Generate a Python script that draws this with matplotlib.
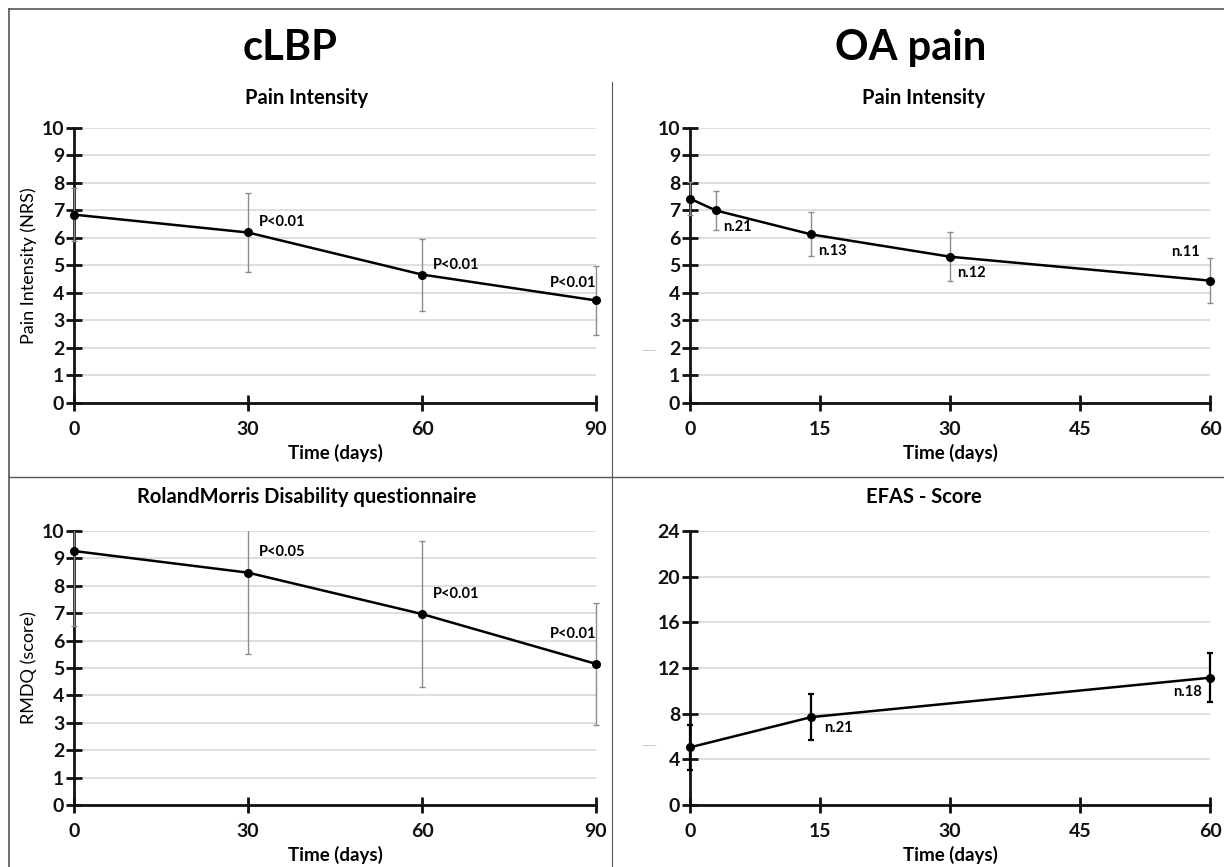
import matplotlib.pyplot as plt
from matplotlib.lines import Line2D
from matplotlib.patches import Rectangle

plt.rcParams['font.family'] = ['Lato', 'DejaVu Sans']
plt.rcParams['font.weight'] = 'bold'

# cLBP - pain intensity
lbp_days = [0, 30, 60, 90]
lbp_pain = [6.85, 6.2, 4.67, 3.73]
lbp_pain_err = [0.95, 1.42, 1.31, 1.24]
lbp_pain_p = ['', 'P<0.01', 'P<0.01', 'P<0.01']

# cLBP - RMDQ
lbp_rmdq = [9.27, 8.48, 6.97, 5.15]
lbp_rmdq_err = [2.75, 2.97, 2.67, 2.22]
lbp_rmdq_p = ['', 'P<0.05', 'P<0.01', 'P<0.01']

# OA pain - pain intensity
oa_days = [0, 3, 14, 30, 60]
oa_pain = [7.43, 7.0, 6.13, 5.32, 4.45]
oa_pain_err = [0.6, 0.7, 0.8, 0.9, 0.82]
oa_pain_n = ['', 'n.21', 'n.13', 'n.12', 'n.11']

# OA pain - EFAS score
efas_days = [0, 14, 60]
efas_score = [5.05, 7.7, 11.15]
efas_err = [1.95, 2.0, 2.15]
efas_n = ['', 'n.21', 'n.18']

W, H = 1224, 867
fig = plt.figure(figsize=(W / 100, H / 100), dpi=100)


def px_axes(x0, y0, x1, y1):
    return fig.add_axes([x0 / W, 1 - y1 / H, (x1 - x0) / W, (y1 - y0) / H])


def style(ax, xmax, xticks, ymax, yticks, ylabel=None):
    ax.set_xlim(0, xmax)
    ax.set_ylim(0, ymax)
    ax.set_xticks(xticks)
    ax.set_yticks(yticks)
    for s in ['top', 'right']:
        ax.spines[s].set_visible(False)
    for s in ['left', 'bottom']:
        ax.spines[s].set_linewidth(2)
        ax.spines[s].set_color('#111111')
    ax.yaxis.grid(True, color='#d9d9d9', lw=1.2)
    ax.set_axisbelow(True)
    ax.tick_params(axis='both', direction='inout', length=12, width=2,
                   labelsize=14, colors='#111111')
    ax.tick_params(axis='x', pad=7)
    ax.tick_params(axis='y', pad=1)
    ax.set_xlabel('Time (days)', fontsize=13.5, fontweight='bold', labelpad=4)
    if ylabel:
        ax.set_ylabel(ylabel, fontsize=13, fontweight='normal', labelpad=3)


def series(ax, x, y, err, ecolor, elw):
    eb = ax.errorbar(x, y, yerr=err, color='black', lw=1.8, marker='none',
                     ecolor=ecolor, elinewidth=elw, capsize=2.5, capthick=elw,
                     zorder=3)
    # clip vertically to the plot, but let the bars at the x ends show fully
    box = Rectangle((-0.05, 0), 1.1, 1, transform=ax.transAxes,
                    fill=False, visible=False)
    ax.add_patch(box)
    for art in list(eb.lines[1]) + list(eb.lines[2]):
        art.set_clip_path(box)
    ax.plot(x, y, 'o', color='black', ms=5.5, clip_on=False, zorder=4)


def notes(ax, x, y, texts, dx, dy, ha):
    for xi, yi, t in zip(x, y, texts):
        if t:
            ax.text(xi + dx, yi + dy, t, fontsize=10.5, fontweight='bold', ha=ha)


def title(xc, yc, t, size=14.5):
    fig.text(xc / W, 1 - yc / H, t, fontsize=size, fontweight='bold',
             ha='center', va='center')


# top left
ax1 = px_axes(74, 128, 596, 403)
style(ax1, 90, lbp_days, 10, range(11), 'Pain Intensity (NRS)')
series(ax1, lbp_days, lbp_pain, lbp_pain_err, '#8c8c8c', 1.0)
notes(ax1, lbp_days[1:3], lbp_pain[1:3], lbp_pain_p[1:3], 1.8, 0.22, 'left')
notes(ax1, lbp_days[3:], lbp_pain[3:], lbp_pain_p[3:], 0, 0.5, 'right')
title(307, 98, 'Pain Intensity')

# top right
ax2 = px_axes(690, 128, 1210, 403)
style(ax2, 60, [0, 15, 30, 45, 60], 10, range(11))
series(ax2, oa_days, oa_pain, oa_pain_err, '#8c8c8c', 1.0)
notes(ax2, oa_days[1:4], oa_pain[1:4], oa_pain_n[1:4], 0.8, -0.75, 'left')
notes(ax2, oa_days[4:], oa_pain[4:], oa_pain_n[4:], -1.2, 0.9, 'right')
title(924, 98, 'Pain Intensity')

# bottom left
ax3 = px_axes(74, 531, 596, 805)
style(ax3, 90, lbp_days, 10, range(11), 'RMDQ (score)')
series(ax3, lbp_days, lbp_rmdq, lbp_rmdq_err, '#8c8c8c', 1.0)
notes(ax3, lbp_days[1:3], lbp_rmdq[1:3], lbp_rmdq_p[1:3], 1.8, 0.6, 'left')
notes(ax3, lbp_days[3:], lbp_rmdq[3:], lbp_rmdq_p[3:], 0, 0.95, 'right')
title(307, 497, 'RolandMorris Disability questionnaire')

# bottom right
ax4 = px_axes(690, 531, 1210, 805)
style(ax4, 60, [0, 15, 30, 45, 60], 24, range(0, 25, 4))
series(ax4, efas_days, efas_score, efas_err, 'black', 1.6)
notes(ax4, efas_days[1:2], efas_score[1:2], efas_n[1:2], 1.5, -1.3, 'left')
notes(ax4, efas_days[2:], efas_score[2:], efas_n[2:], -0.9, -1.6, 'right')
title(924, 497, 'EFAS - Score')

# group headings
title(290, 48, 'cLBP', 30)
title(911, 48, 'OA pain', 30)

# frame and dividers
lc = '#555555'
fig.add_artist(Line2D([9 / W, 9 / W], [0, 1 - 9 / H], color=lc, lw=1.2))
fig.add_artist(Line2D([9 / W, 1], [1 - 9 / H, 1 - 9 / H], color=lc, lw=1.2))
fig.add_artist(Line2D([612 / W, 612 / W], [0, 1 - 82 / H], color=lc, lw=0.8))
fig.add_artist(Line2D([9 / W, 1], [1 - 477 / H, 1 - 477 / H], color=lc, lw=1.0))

# small stray dashes left of right-hand axes
fig.add_artist(Line2D([643 / W, 656 / W], [1 - 350 / H, 1 - 350 / H],
                      color='#999999', lw=0.7, ls=(0, (1, 1))))
fig.add_artist(Line2D([643 / W, 656 / W], [1 - 745 / H, 1 - 745 / H],
                      color='#999999', lw=0.7, ls=(0, (1, 1))))

fig.savefig('out.png', dpi=100, facecolor='white')
